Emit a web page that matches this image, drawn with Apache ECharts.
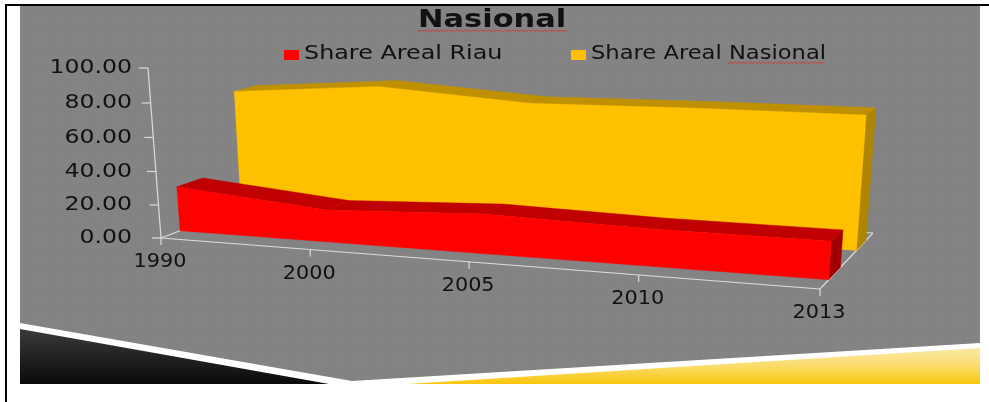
<!DOCTYPE html>
<html>
<head>
<meta charset="utf-8">
<style>
  html, body { margin: 0; padding: 0; background: #fff; }
  #chart { width: 989px; height: 402px; }
</style>
<script src="https://cdn.jsdelivr.net/npm/echarts@6/dist/echarts.min.js"></script>
</head>
<body>
<div id="chart"></div>
<script>
var categories = ['1990', '2000', '2005', '2010', '2013'];
var shareRiau = [27, 19, 23, 21, 21];
var shareNasional = [74, 81, 75, 76.5, 77];
var yTicks = [0, 20, 40, 60, 80, 100];

var FONT = '"DejaVu Sans", sans-serif';
var TEXT = '#111111';
var AXIS = '#dcdcdc';

// 透视投影：地面四边形 + 竖直方向灭点
var A = [161, 238], B = [820, 289], C = [873, 233], D = [278, 193.5];
var V = [519, 4915];
var kV = -0.0003507;

var dx1 = B[0] - C[0], dx2 = D[0] - C[0], sx = A[0] - B[0] + C[0] - D[0];
var dy1 = B[1] - C[1], dy2 = D[1] - C[1], sy = A[1] - B[1] + C[1] - D[1];
var den = dx1 * dy2 - dx2 * dy1;
var g = (sx * dy2 - dx2 * sy) / den;
var h = (dx1 * sy - sx * dy1) / den;

function project (t, depth, val) {
  var X = (B[0] - A[0] + g * B[0]) * t + (D[0] - A[0] + h * D[0]) * depth + A[0];
  var Y = (B[1] - A[1] + g * B[1]) * t + (D[1] - A[1] + h * D[1]) * depth + A[1];
  var W = g * t + h * depth + 1;
  var q = val * kV;
  return [(X + q * V[0]) / (W + q), (Y + q * V[1]) / (W + q)];
}

// 把 api.coord 得到的网格像素换算回 t / 数值，再投影
function scaler (api) {
  var o = api.coord([0, 0]);
  var e = api.coord([categories.length - 1, 100]);
  return function (cat, val, depth) {
    var p = api.coord([cat, val]);
    return project((p[0] - o[0]) / (e[0] - o[0]), depth, 100 * (p[1] - o[1]) / (e[1] - o[1]));
  };
}

function face (points, color) {
  return {
    type: 'polygon',
    shape: { points: points },
    style: { fill: color, stroke: color, lineWidth: 0.4 }
  };
}

function areaSeries (name, values, d0, d1, front, top, side) {
  var last = values.length - 1;
  return {
    name: name,
    type: 'custom',
    coordinateSystem: 'cartesian2d',
    silent: true,
    itemStyle: { color: front },
    data: values.map(function (v, i) { return [i, v]; }),
    renderItem: function (params, api) {
      var P = scaler(api);
      var i = api.value(0);
      var v = api.value(1);
      var children = [];
      if (i < last) {
        var n = values[i + 1];
        children.push(face([P(i, v, d0), P(i + 1, n, d0), P(i + 1, n, d1), P(i, v, d1)], top));
      } else {
        children.push(face([P(i, 0, d0), P(i, 0, d1), P(i, v, d1), P(i, v, d0)], side));
        // 正面整块画在最后，避免分段之间出现接缝
        var outline = [P(0, 0, d0), P(last, 0, d0)];
        for (var k = last; k >= 0; k--) {
          outline.push(P(k, values[k], d0));
        }
        children.push(face(outline, front));
      }
      return { type: 'group', children: children };
    }
  };
}

function axisLine (a, b) {
  return {
    type: 'line',
    shape: { x1: a[0], y1: a[1], x2: b[0], y2: b[1] },
    style: { stroke: AXIS, lineWidth: 1.2 }
  };
}

// 斜的坐标轴，标签和刻度都走同一个投影
var axisSeries = {
  type: 'custom',
  coordinateSystem: 'cartesian2d',
  silent: true,
  data: [[0, 0]],
  renderItem: function (params, api) {
    var P = scaler(api);
    var last = categories.length - 1;
    var children = [
      axisLine(P(0, 0, 1), P(last, 0, 1)),
      axisLine(P(0, 0, 0), P(0, 0, 1)),
      axisLine(P(last, 0, 0), P(last, 0, 1)),
      axisLine(P(0, 0, 0), P(last, 0, 0)),
      axisLine(P(0, 0, 0), P(0, 100, 0))
    ];
    yTicks.forEach(function (tick) {
      var p = P(0, tick, 0);
      children.push(axisLine(p, [p[0] - 9, p[1]]));
      children.push({
        type: 'text',
        x: 132,
        y: p[1],
        scaleX: 1.18,
        style: { text: tick.toFixed(2), font: '20px ' + FONT, fill: TEXT, textAlign: 'right', textVerticalAlign: 'middle' }
      });
    });
    categories.forEach(function (label, i) {
      var p = P(i, 0, 0);
      children.push(axisLine(p, [p[0], p[1] + 7]));
      children.push({
        type: 'text',
        x: p[0] - 1,
        y: p[1] + 24,
        scaleX: 1.04,
        style: { text: label, font: '20px ' + FONT, fill: TEXT, textAlign: 'center', textVerticalAlign: 'middle' }
      });
    });
    return { type: 'group', children: children };
  }
};

// 拼写检查的红色波浪线
function squiggle (x0, x1, y) {
  var pts = [];
  for (var x = x0, up = 0; x <= x1; x += 2, up = 1 - up) {
    pts.push([x, y + up * 1.5]);
  }
  return { type: 'polyline', z: 10, shape: { points: pts }, style: { stroke: '#e03030', fill: null, lineWidth: 0.8 } };
}

function label (text, x, y, font, scaleX) {
  return {
    type: 'text', z: 10, x: x, y: y, scaleX: scaleX,
    style: { text: text, font: font, fill: TEXT, textVerticalAlign: 'middle' }
  };
}

// 幻灯片灰底上的细小点纹
function dotPattern () {
  var c = document.createElement('canvas');
  c.width = c.height = 5;
  var ctx = c.getContext('2d');
  ctx.fillStyle = '#838383';
  ctx.fillRect(0, 0, 5, 5);
  ctx.fillStyle = '#888888';
  ctx.fillRect(2, 2, 1, 1);
  return { image: c, repeat: 'repeat' };
}

var slide = [
  { type: 'rect', z: -10, shape: { x: 20, y: 5, width: 960, height: 379 }, style: { fill: dotPattern() } },
  { type: 'polygon', z: -9, shape: { points: [[20, 323], [352, 381], [980, 343], [980, 384], [20, 384]] }, style: { fill: '#ffffff' } },
  {
    type: 'polygon', z: -8,
    shape: { points: [[20, 329], [329, 384], [20, 384]] },
    style: {
      fill: new echarts.graphic.LinearGradient(0, 0, 0, 1, [
        { offset: 0, color: '#3a3a3a' },
        { offset: 1, color: '#0a0a0a' }
      ])
    }
  },
  {
    type: 'polygon', z: -8,
    shape: { points: [[407, 384], [980, 348], [980, 384]] },
    style: {
      fill: new echarts.graphic.LinearGradient(0, 0, 0, 1, [
        { offset: 0, color: '#fbe9a8' },
        { offset: 0.5, color: '#fbdc6a' },
        { offset: 1, color: '#f8c60c' }
      ])
    }
  },
  { type: 'rect', z: 20, shape: { x: 5, y: 4, width: 984, height: 2 }, style: { fill: '#000000' } },
  { type: 'rect', z: 20, shape: { x: 5, y: 4, width: 2, height: 398 }, style: { fill: '#000000' } },
  label('Nasional', 418, 21, 'bold 24px ' + FONT, 1.27),
  squiggle(417, 568, 30),
  { type: 'rect', z: 10, shape: { x: 284, y: 50, width: 15, height: 10 }, style: { fill: '#ff0000' } },
  label('Share Areal Riau', 304, 54, '19px ' + FONT, 1.255),
  { type: 'rect', z: 10, shape: { x: 571, y: 50, width: 15, height: 10 }, style: { fill: '#ffc000' } },
  label('Share Areal Nasional', 591, 54, '19px ' + FONT, 1.19),
  squiggle(727, 826, 62)
];

var chart = echarts.init(document.getElementById('chart'));
chart.setOption({
  animation: false,
  grid: { left: 161, right: 169, top: 68, bottom: 164 },
  xAxis: { type: 'category', data: categories, boundaryGap: false, show: false },
  yAxis: { type: 'value', min: 0, max: 100, interval: 20, show: false },
  graphic: slide,
  series: [
    axisSeries,
    areaSeries('Share Areal Nasional', shareNasional, 0.66, 0.853, '#ffc000', '#bf9000', '#b08500'),
    areaSeries('Share Areal Riau', shareRiau, 0.148, 0.356, '#ff0000', '#c00000', '#a00000')
  ]
});
</script>
</body>
</html>
